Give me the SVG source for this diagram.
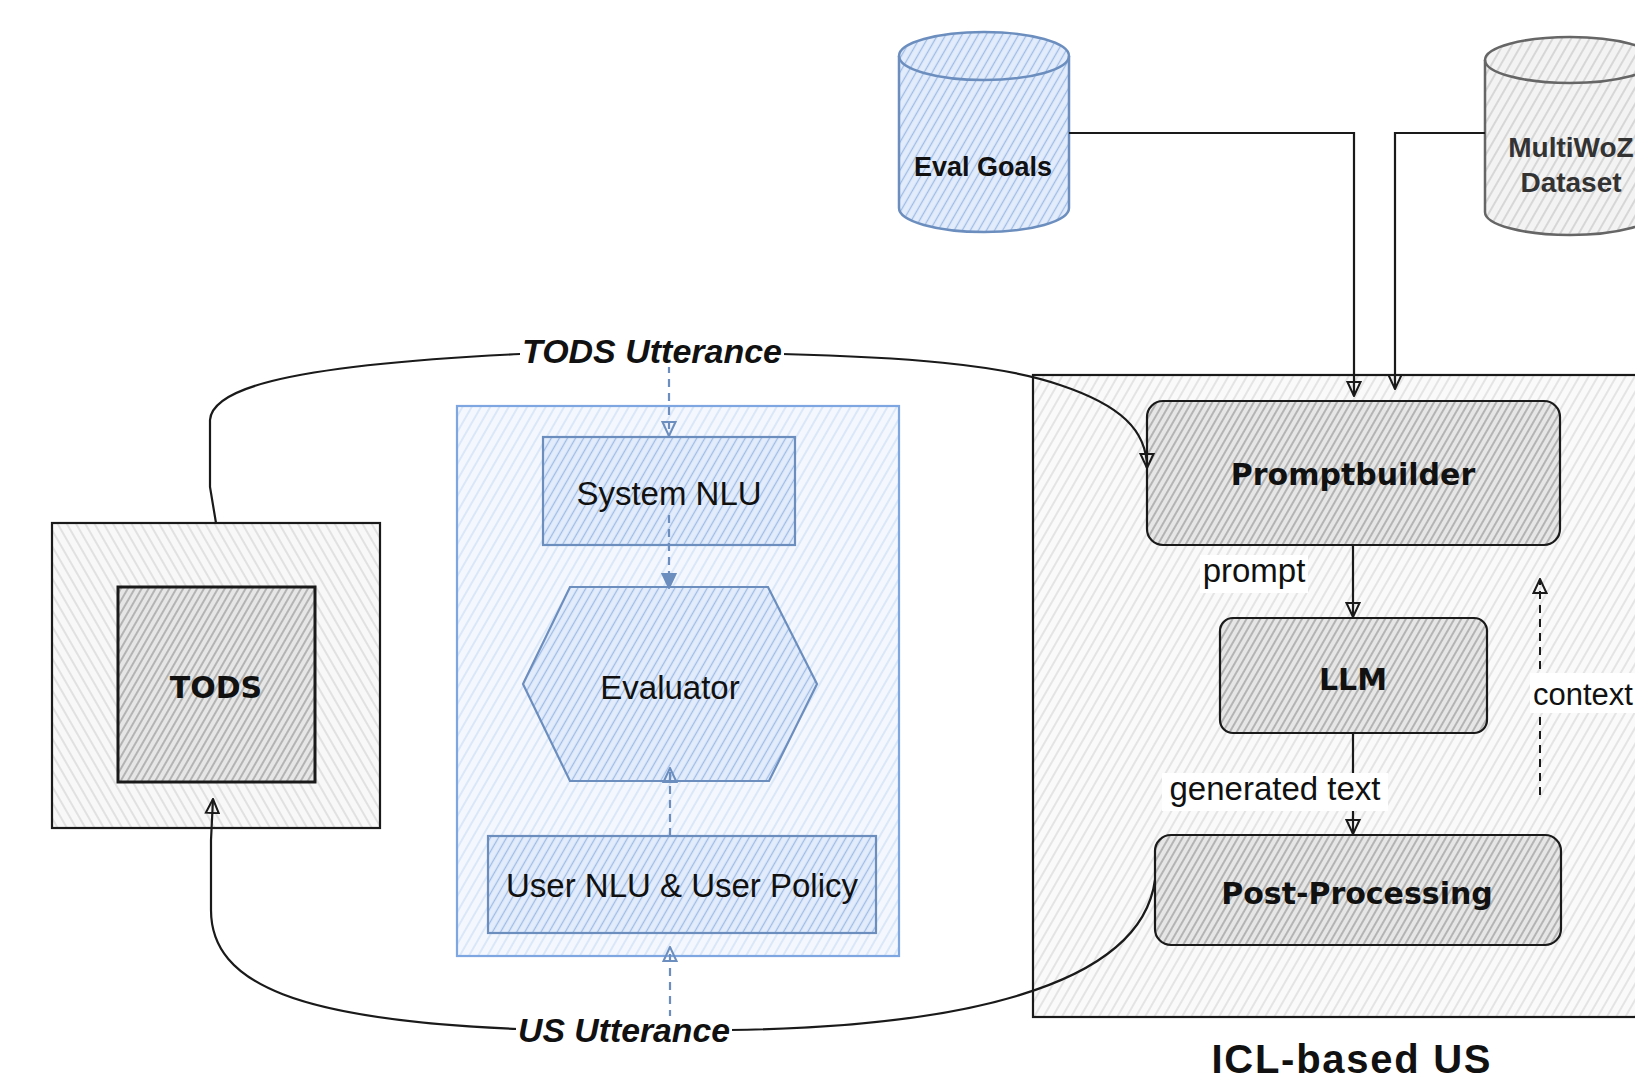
<svg xmlns="http://www.w3.org/2000/svg" width="1635" height="1080" viewBox="0 0 1635 1080">
<style>
.reg{font-family:"Liberation Sans",Arial,sans-serif;font-size:33px;fill:#111;text-anchor:middle}
.bold{font-family:"DejaVu Sans",sans-serif;font-weight:bold;font-size:30px;fill:#111;text-anchor:middle}
.cyl{font-family:"Liberation Sans",Arial,sans-serif;font-weight:bold;font-size:28px;text-anchor:middle}
.ital{font-family:"Liberation Sans",Arial,sans-serif;font-weight:bold;font-style:italic;font-size:33px;fill:#111;text-anchor:middle}
.edge{fill:none;stroke:#1a1a1a;stroke-width:2.2}
.bdash{fill:none;stroke:#6c8ebf;stroke-width:2.2;stroke-dasharray:8 6}
.kdash{fill:none;stroke:#1a1a1a;stroke-width:2;stroke-dasharray:8 6}
.lbl{fill:#fff}
</style>
<defs>
<pattern id="hBlue" width="7" height="7" patternUnits="userSpaceOnUse" patternTransform="rotate(30)"><rect width="7" height="7" fill="#e2ecfb"/><line x1="3.5" y1="0" x2="3.5" y2="7" stroke="#9ebce6" stroke-width="1.3"/></pattern>
<pattern id="hBlueLight" width="8" height="8" patternUnits="userSpaceOnUse" patternTransform="rotate(30)"><rect width="8" height="8" fill="#f4f8fe"/><line x1="4" y1="0" x2="4" y2="8" stroke="#cddff6" stroke-width="1.3"/></pattern>
<pattern id="hGrayLight" width="8" height="8" patternUnits="userSpaceOnUse" patternTransform="rotate(30)"><rect width="8" height="8" fill="#fafafa"/><line x1="4" y1="0" x2="4" y2="8" stroke="#d6d6d6" stroke-width="1.2"/></pattern>
<pattern id="hGrayDark" width="6" height="6" patternUnits="userSpaceOnUse" patternTransform="rotate(30)"><rect width="6" height="6" fill="#e6e6e6"/><line x1="3" y1="0" x2="3" y2="6" stroke="#8a8a8a" stroke-width="1.1"/></pattern>
<pattern id="hGrayOuter" width="8" height="8" patternUnits="userSpaceOnUse" patternTransform="rotate(-30)"><rect width="8" height="8" fill="#f8f8f8"/><line x1="4" y1="0" x2="4" y2="8" stroke="#d2d2d2" stroke-width="1.2"/></pattern>
<pattern id="hGrayCyl" width="8" height="8" patternUnits="userSpaceOnUse" patternTransform="rotate(30)"><rect width="8" height="8" fill="#f3f3f3"/><line x1="4" y1="0" x2="4" y2="8" stroke="#c4c4c4" stroke-width="1.2"/></pattern>
<marker id="aK" viewBox="0 0 16 16" refX="15" refY="8" markerWidth="16" markerHeight="16" markerUnits="userSpaceOnUse" orient="auto"><path d="M1,1.5 L15,8 L1,14.5 Z" fill="none" stroke="#1a1a1a" stroke-width="2"/></marker>
<marker id="aB" viewBox="0 0 16 16" refX="15" refY="8" markerWidth="16" markerHeight="16" markerUnits="userSpaceOnUse" orient="auto"><path d="M1,1.5 L15,8 L1,14.5 Z" fill="none" stroke="#6c8ebf" stroke-width="2"/></marker>
<marker id="aBf" viewBox="0 0 16 16" refX="15" refY="8" markerWidth="16" markerHeight="16" markerUnits="userSpaceOnUse" orient="auto"><path d="M1,1.5 L15,8 L1,14.5 Z" fill="#6c8ebf" stroke="#6c8ebf" stroke-width="2"/></marker>
</defs>
<rect width="1635" height="1080" fill="#fff"/>

<g id="icl-container">
<rect x="1033" y="375" width="640" height="642" fill="url(#hGrayLight)" stroke="#1a1a1a" stroke-width="2.2"/>
<text x="1351" y="1073" font-family="Liberation Sans, Arial, sans-serif" font-weight="bold" font-size="40" fill="#111" text-anchor="middle" textLength="279" lengthAdjust="spacing">ICL-based US</text>
</g>

<g id="evaluator-container">
<rect x="457" y="406" width="442" height="550" fill="url(#hBlueLight)" stroke="#7ea6e0" stroke-width="2.2"/>
</g>

<g id="eval-goals">
<path d="M899 56 A85 24 0 0 1 1069 56 L1069 208 A85 24 0 0 1 899 208 Z" fill="url(#hBlue)" stroke="#6c8ebf" stroke-width="2.5"/>
<path d="M899 56 A85 24 0 0 0 1069 56" fill="none" stroke="#6c8ebf" stroke-width="2.5"/>
<text class="cyl" x="983" y="176" fill="#111" textLength="138" lengthAdjust="spacingAndGlyphs">Eval Goals</text>
</g>

<g id="multiwoz">
<path d="M1485 60 A85 23 0 0 1 1655 60 L1655 212 A85 23 0 0 1 1485 212 Z" fill="url(#hGrayCyl)" stroke="#666" stroke-width="2.5"/>
<path d="M1485 60 A85 23 0 0 0 1655 60" fill="none" stroke="#666" stroke-width="2.5"/>
<text class="cyl" x="1571" y="157" fill="#333">MultiWoZ</text>
<text class="cyl" x="1571" y="192" fill="#333">Dataset</text>
</g>

<g id="tods">
<rect x="52" y="523" width="328" height="305" fill="url(#hGrayOuter)" stroke="#1a1a1a" stroke-width="2.2"/>
<rect x="118" y="587" width="197" height="195" fill="url(#hGrayDark)" stroke="#1a1a1a" stroke-width="3"/>
<text class="bold" x="216" y="698" font-size="29">TODS</text>
</g>

<g id="system-nlu">
<rect x="543" y="437" width="252" height="108" fill="url(#hBlue)" stroke="#6c8ebf" stroke-width="2.2"/>
<text class="reg" x="669" y="505">System NLU</text>
</g>

<g id="evaluator">
<polygon points="570,587 768,587 817,684 769,781 570,781 523,684" fill="url(#hBlue)" stroke="#6c8ebf" stroke-width="2.2"/>
<text class="reg" x="670" y="699">Evaluator</text>
</g>

<g id="user-nlu-policy">
<rect x="488" y="836" width="388" height="97" fill="url(#hBlue)" stroke="#6c8ebf" stroke-width="2.2"/>
<text class="reg" x="682" y="897">User NLU &amp; User Policy</text>
</g>

<g id="promptbuilder">
<rect x="1147" y="401" width="413" height="144" rx="16" fill="url(#hGrayDark)" stroke="#1a1a1a" stroke-width="2.2"/>
<text class="bold" x="1353" y="485">Promptbuilder</text>
</g>

<g id="llm">
<rect x="1220" y="618" width="267" height="115" rx="13" fill="url(#hGrayDark)" stroke="#1a1a1a" stroke-width="2.2"/>
<text class="bold" x="1353" y="690">LLM</text>
</g>

<g id="post-processing">
<rect x="1155" y="835" width="406" height="110" rx="16" fill="url(#hGrayDark)" stroke="#1a1a1a" stroke-width="2.2"/>
<text class="bold" x="1357" y="904">Post-Processing</text>
</g>

<g id="connectors">
<path class="edge" d="M1069 133 L1354 133 L1354 396" marker-end="url(#aK)"/>
<path class="edge" d="M1485 133 L1395 133 L1395 389" marker-end="url(#aK)"/>
<path class="edge" d="M216 523 L210 487 L210 420 C212 392 270 366 520 354 L782 354 C900 357 1000 364 1060 385 C1120 405 1147 430 1147 468" marker-end="url(#aK)"/>
<path class="edge" d="M1155 880 C1140 990 950 1027 730 1030 L518 1029 C300 1020 211 985 211 910 L211 840 L213 799" marker-end="url(#aK)"/>
<path class="edge" d="M1353 545 L1353 617" marker-end="url(#aK)"/>
<path class="edge" d="M1353 733 L1353 834" marker-end="url(#aK)"/>
<path class="kdash" d="M1540 795 L1540 579" marker-end="url(#aK)"/>
<path class="bdash" d="M669 365 L669 436" marker-end="url(#aB)"/>
<path class="bdash" d="M669 515 L669 588" marker-end="url(#aBf)"/>
<path class="bdash" d="M670 836 L670 768" marker-end="url(#aB)"/>
<path class="bdash" d="M670 1018 L670 947" marker-end="url(#aB)"/>
<rect class="lbl" x="520" y="337" width="264" height="30"/>
<text class="ital" x="652" y="363" textLength="260" lengthAdjust="spacingAndGlyphs">TODS Utterance</text>
<rect class="lbl" x="516" y="1016" width="216" height="32"/>
<text class="ital" x="624" y="1042" textLength="212" lengthAdjust="spacingAndGlyphs">US Utterance</text>
<rect class="lbl" x="1200" y="555" width="108" height="38"/>
<text class="reg" x="1254" y="582">prompt</text>
<rect class="lbl" x="1162" y="773" width="226" height="38"/>
<text class="reg" x="1275" y="800">generated text</text>
<rect class="lbl" x="1530" y="673" width="105" height="40"/>
<text class="reg" x="1533" y="705" style="text-anchor:start;font-size:31px">context</text>
</g>
</svg>
